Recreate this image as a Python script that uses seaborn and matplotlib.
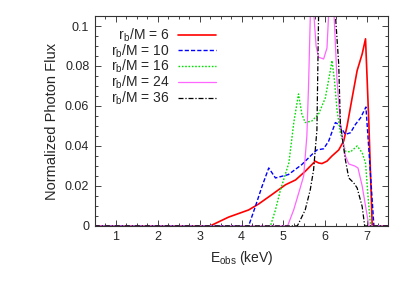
import numpy as np
import pandas as pd
import matplotlib
matplotlib.use("Agg")
import matplotlib.pyplot as plt
from matplotlib.ticker import MultipleLocator
import seaborn as sns

# energies (keV) and normalized photon flux
e_6 = [0.5, 3.25, 3.69, 4.17, 4.41, 4.72, 5.05, 5.29, 5.52, 5.68, 5.76, 5.84, 5.92, 6.04, 6.16, 6.32, 6.44, 6.52, 6.64, 6.76, 6.88, 6.96, 7.0, 7.04, 7.12, 7.5]
f_6 = [0, 0, 0.0044, 0.008, 0.011, 0.0156, 0.0206, 0.023, 0.0273, 0.0307, 0.0324, 0.0315, 0.0312, 0.0324, 0.035, 0.038, 0.0425, 0.050, 0.064, 0.0777, 0.086, 0.0936, 0.0726, 0.051, 0, 0]

e_10 = [0.5, 4.17, 4.33, 4.49, 4.65, 4.81, 5.12, 5.44, 5.68, 5.8, 5.96, 6.08, 6.24, 6.32, 6.48, 6.6, 6.72, 6.84, 6.97, 7.04, 7.16, 7.5]
f_10 = [0, 0, 0.0097, 0.0198, 0.029, 0.024, 0.0257, 0.0307, 0.0357, 0.038, 0.0386, 0.0424, 0.0517, 0.0508, 0.0458, 0.0466, 0.0508, 0.054, 0.0595, 0.038, 0, 0]

e_16 = [0.5, 4.69, 4.81, 4.93, 5.13, 5.25, 5.36, 5.44, 5.52, 5.68, 5.84, 6.0, 6.12, 6.16, 6.22, 6.28, 6.36, 6.48, 6.6, 6.76, 6.88, 6.96, 7.02, 7.08, 7.5]
f_16 = [0, 0, 0.008, 0.018, 0.0315, 0.052, 0.066, 0.056, 0.0517, 0.0525, 0.056, 0.064, 0.0777, 0.0827, 0.0726, 0.058, 0.0466, 0.0374, 0.037, 0.040, 0.0366, 0.0315, 0.0148, 0, 0]

e_24 = [0.5, 5.1, 5.245, 5.364, 5.484, 5.56, 5.6, 5.66, 5.72, 5.78, 5.84, 5.96, 6.04, 6.08, 6.14, 6.2, 6.28, 6.36, 6.48, 6.56, 6.7, 6.78, 6.88, 6.96, 7.04, 7.5]
f_24 = [0, 0, 0.008, 0.0164, 0.025, 0.045, 0.07, 0.12, 0.108, 0.09, 0.0844, 0.0835, 0.089, 0.106, 0.125, 0.11, 0.0726, 0.051, 0.035, 0.031, 0.030, 0.029, 0.02, 0.01, 0, 0]

e_36 = [0.5, 5.33, 5.364, 5.52, 5.64, 5.72, 5.8, 5.84, 5.9, 6.18, 6.24, 6.32, 6.36, 6.48, 6.56, 6.68, 6.76, 6.88, 6.94, 7.5]
f_36 = [0, 0, 0.0013, 0.008, 0.018, 0.028, 0.048, 0.106, 0.16, 0.16, 0.106, 0.081, 0.051, 0.033, 0.024, 0.0215, 0.019, 0.0097, 0, 0]

labels = ["\u2007r$_\\mathrm{b}$/M = 6", "r$_\\mathrm{b}$/M = 10", "r$_\\mathrm{b}$/M = 16",
          "r$_\\mathrm{b}$/M = 24", "r$_\\mathrm{b}$/M = 36"]

sns.set_style("ticks")
plt.rcParams['font.family'] = ['Liberation Sans', 'DejaVu Sans']
plt.rcParams['mathtext.fontset'] = 'custom'
plt.rcParams['mathtext.rm'] = 'Liberation Sans'

fig = plt.figure(figsize=(4.09, 2.86), dpi=100)
ax = fig.add_axes([0.232, 0.21, 0.717, 0.734])

series = [
    (e_6, f_6, "#ff0000", "-", 1.2),
    (e_10, f_10, "#0000ff", (0, (3, 1.5)), 1.0),
    (e_16, f_16, "#00e000", (0, (1.2, 1.2)), 1.0),
    (e_24, f_24, "#ff66ff", "-", 0.9),
    (e_36, f_36, "#000000", (0, (4, 1.5, 1, 1.5)), 0.9),
]
for (e, f, c, ls, lw), lab in zip(series, labels):
    df = pd.DataFrame({"E": e, "flux": f})
    sns.lineplot(data=df, x="E", y="flux", ax=ax, color=c, linestyle=ls,
                 linewidth=lw, label=lab, sort=False)

ax.set_xlim(0.5, 7.5)
ax.set_ylim(0, 0.105)
ax.xaxis.set_major_locator(MultipleLocator(1))
ax.xaxis.set_minor_locator(MultipleLocator(0.25))
ax.yaxis.set_major_locator(MultipleLocator(0.02))
ax.yaxis.set_minor_locator(MultipleLocator(0.005))
ax.set_yticks([0, 0.02, 0.04, 0.06, 0.08, 0.1])
ax.set_yticklabels(["0", "0.02", "0.04", "0.06", "0.08", "0.1"])
ax.tick_params(which="both", direction="in", top=True, right=True, labelsize=9, pad=4)
ax.tick_params(which="major", length=4, width=0.6)
ax.tick_params(which="minor", length=2, width=0.6)
for s in ax.spines.values():
    s.set_linewidth(0.8)
    s.set_color("#333333")

ax.set_xlabel("E$_\\mathrm{obs}$ (keV)", fontsize=10)
ax.set_ylabel("Normalized Photon Flux", fontsize=10.5)

leg = ax.legend(loc="upper left", bbox_to_anchor=(0.02, 1.0), frameon=False,
                markerfirst=False, handlelength=2.7, labelspacing=-0.12,
                fontsize=10, handletextpad=0.6, borderaxespad=0.35)

fig.savefig("out.png", dpi=100)
